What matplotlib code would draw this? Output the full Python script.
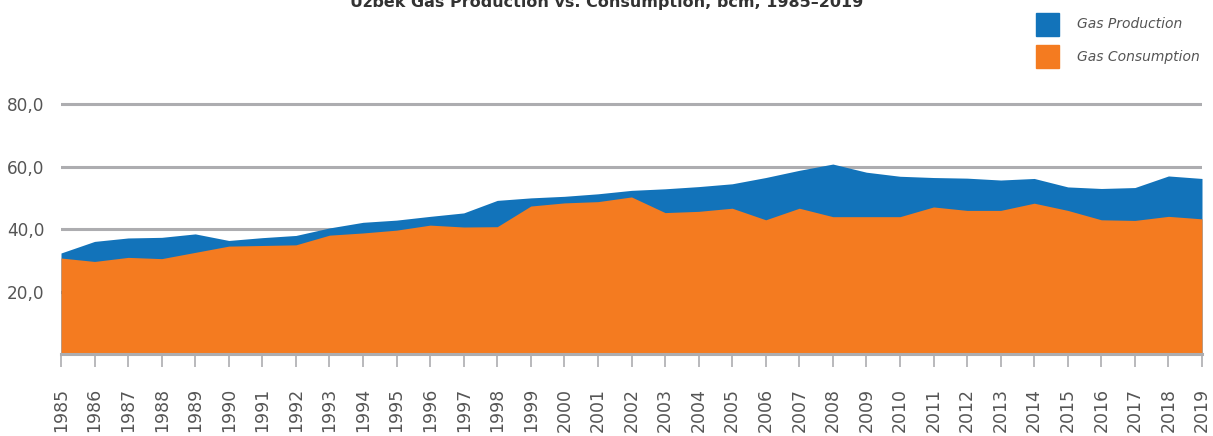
import matplotlib.pyplot as plt

years = list(range(1985, 2020))
production = [32.4, 36.1, 37.2, 37.4, 38.5, 36.4, 37.3, 38.0, 40.4, 42.2,
              42.9, 44.1, 45.2, 49.2, 50.0, 50.5, 51.3, 52.4, 52.9, 53.6,
              54.5, 56.5, 58.8, 60.8, 58.2, 56.9, 56.5, 56.3, 55.7, 56.2,
              53.5, 53.0, 53.3, 57.0, 56.2]
consumption = [30.8, 29.7, 31.0, 30.6, 32.6, 34.6, 34.8, 35.0, 38.1, 38.8,
               39.7, 41.3, 40.7, 40.8, 47.4, 48.4, 48.8, 50.3, 45.3, 45.7,
               46.7, 43.0, 46.7, 44.0, 44.0, 44.0, 47.1, 46.0, 46.0, 48.3,
               46.0, 43.0, 42.8, 44.1, 43.3]
y_ticks = [20, 40, 60, 80]
y_labels = ["20,0", "40,0", "60,0", "80,0"]

blue = "#1273BA"
orange = "#F47B20"
grey = "#ADADB0"
text_grey = "#555555"

fig = plt.figure(figsize=(12.13, 4.36), dpi=100)
ax = fig.add_axes([61 / 1213, 0.187, 1141 / 1213, 0.589])

ax.fill_between(years, 0, production, color=blue, lw=0, zorder=2)
ax.fill_between(years, 0, consumption, color=orange, lw=0, zorder=3)

ax.set_xlim(1985, 2019)
ax.set_ylim(0, 82)
ax.set_yticks(y_ticks)
ax.set_yticklabels(y_labels, fontsize=12.2, color=text_grey)
ax.set_xticks(years)
ax.set_xticklabels([str(y) for y in years], rotation=90, fontsize=12.5,
                   color=text_grey)

ax.grid(axis="y", color=grey, lw=2.2, zorder=1)
ax.set_axisbelow(True)
for s in ["top", "right", "left"]:
    ax.spines[s].set_visible(False)
ax.spines["bottom"].set_color(grey)
ax.spines["bottom"].set_linewidth(2.2)
ax.spines["bottom"].set_zorder(4)
ax.tick_params(axis="y", length=0, pad=12)
ax.tick_params(axis="x", length=9, width=1.2, color=grey, pad=15)

fig.text(0.5, 0.995, "Uzbek Gas Production vs. Consumption, bcm, 1985\u20132019",
         ha="center", va="center", fontsize=11.5, fontweight="bold",
         color="#333333", family=["Liberation Sans Narrow", "DejaVu Sans"])

# legend drawn by hand in figure coords
for yy, col, lab in [(24.5, blue, "Gas Production"), (56.5, orange, "Gas Consumption")]:
    fig.patches.append(plt.Rectangle((1036 / 1213, 1 - (yy + 11.5) / 436),
                                     23 / 1213, 23 / 436, color=col,
                                     transform=fig.transFigure))
    fig.text(1077 / 1213, 1 - yy / 436, lab, ha="left", va="center",
             fontsize=10, style="italic", color=text_grey,
             family=["Liberation Sans Narrow", "DejaVu Sans"])

fig.savefig("out.png", dpi=100)
